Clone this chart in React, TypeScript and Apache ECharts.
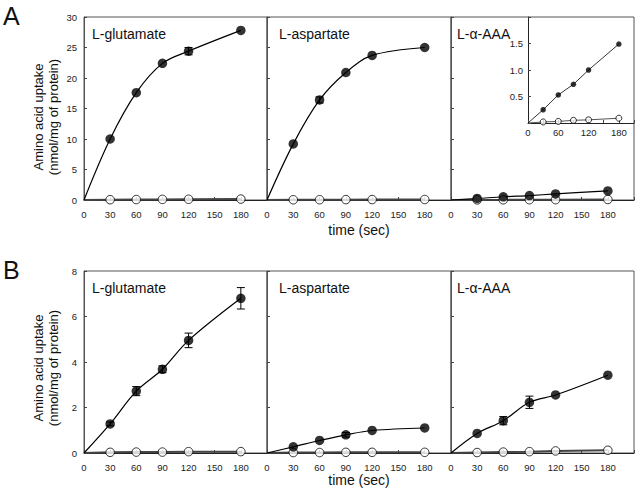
import React, { useEffect, useRef } from "react";
import * as echarts from "echarts";

// ---- data ----
const timePoints = [30, 60, 90, 120, 180];
const xTicks = [0, 30, 60, 90, 120, 150, 180];

// Panel A (nmol/mg protein)
const aGluFilled = [10.0, 17.6, 22.4, 24.4, 27.8];
const aGluErr = [0, 0, 0, 0.6, 0];
const aGluOpen = [0.05, 0.07, 0.1, 0.12, 0.15];
const aAspFilled = [9.2, 16.4, 20.9, 23.7, 25.0];
const aAspErr = [0, 0.5, 0, 0, 0];
const aAspOpen = [0.04, 0.05, 0.06, 0.07, 0.08];
const aAaaFilled = [0.25, 0.53, 0.73, 1.0, 1.49];
const aAaaErr = [0, 0, 0, 0, 0];
const aAaaOpen = [0.02, 0.03, 0.05, 0.06, 0.09];

// Panel B
const bGluFilled = [1.28, 2.72, 3.68, 4.95, 6.8];
const bGluErr = [0.08, 0.2, 0.15, 0.32, 0.47];
const bGluOpen = [0.03, 0.04, 0.04, 0.06, 0.06];
const bAspFilled = [0.27, 0.55, 0.8, 0.99, 1.1];
const bAspErr = [0, 0, 0.1, 0, 0];
const bAspOpen = [0.02, 0.02, 0.03, 0.03, 0.03];
const bAaaFilled = [0.86, 1.42, 2.23, 2.55, 3.42];
const bAaaErr = [0, 0.18, 0.27, 0, 0];
const bAaaOpen = [0.02, 0.04, 0.06, 0.09, 0.12];

const panelNames = ["L-glutamate", "L-aspartate", "L-\u03b1-AAA"];
const yTitleLines = ["Amino acid uptake", "(nmol/mg of protein)"];
const xTitle = "time (sec)";

const FONT = "'Liberation Sans', Arial, Helvetica, sans-serif";

const panelLefts = [84, 267, 451];
const panelWidths = [183, 184, 183];
const rowTops = [17, 271];
const rowHeights = [183, 182];
const labelXs = [92, 279, 457];

const rows = [
  { max: 30, interval: 5, filled: [aGluFilled, aAspFilled, aAaaFilled], err: [aGluErr, aAspErr, aAaaErr], open: [aGluOpen, aAspOpen, aAaaOpen] },
  { max: 8, interval: 2, filled: [bGluFilled, bAspFilled, bAaaFilled], err: [bGluErr, bAspErr, bAaaErr], open: [bGluOpen, bAspOpen, bAaaOpen] },
];

function errRender(params: any, api: any) {
  const x = api.value(0);
  const y = api.value(1);
  const e = api.value(2);
  if (!e) return { type: "group", children: [] };
  const top = api.coord([x, y + e]);
  const bot = api.coord([x, y - e]);
  const hw = 4;
  const st = { stroke: "#000", lineWidth: 1 };
  return {
    type: "group",
    children: [
      { type: "line", shape: { x1: top[0], y1: top[1], x2: bot[0], y2: bot[1] }, style: st },
      { type: "line", shape: { x1: top[0] - hw, y1: top[1], x2: top[0] + hw, y2: top[1] }, style: st },
      { type: "line", shape: { x1: bot[0] - hw, y1: bot[1], x2: bot[0] + hw, y2: bot[1] }, style: st },
    ],
  };
}

function buildOption() {
  const grid: any[] = [];
  const xAxis: any[] = [];
  const yAxis: any[] = [];
  const series: any[] = [];
  const graphic: any[] = [];

  rows.forEach((row, r) => {
    for (let p = 0; p < 3; p++) {
      const gi = grid.length;
      grid.push({
        left: panelLefts[p],
        top: rowTops[r],
        width: panelWidths[p],
        height: rowHeights[r],
        show: true,
        borderColor: "#555",
        borderWidth: 1,
        backgroundColor: "transparent",
      });
      xAxis.push({
        type: "value",
        gridIndex: gi,
        min: 0,
        max: 210,
        interval: 30,
        axisLine: { show: true, lineStyle: { color: "#222", width: 1 } },
        axisTick: { show: true, inside: true, length: 3, lineStyle: { color: "#444" } },
        axisLabel: {
          show: true,
          margin: 9,
          fontSize: 9.5,
          color: "#222",
          fontFamily: FONT,
          formatter: (v: number) => (xTicks.indexOf(v) >= 0 ? String(v) : ""),
        },
        splitLine: { show: false },
      });
      yAxis.push({
        type: "value",
        gridIndex: gi,
        min: 0,
        max: row.max,
        interval: row.interval,
        axisLine: { show: true, lineStyle: { color: "#555", width: 1 } },
        axisTick: { show: true, inside: true, length: 3, lineStyle: { color: "#444" } },
        axisLabel: {
          show: p === 0,
          margin: 7,
          fontSize: 9.5,
          color: "#222",
          fontFamily: FONT,
        },
        splitLine: { show: false },
      });

      const filled = row.filled[p];
      const err = row.err[p];
      const open = row.open[p];
      const fitData = [[0, 0], ...timePoints.map((t, i) => [t, filled[i]])];
      const openLine = [[0, 0], ...timePoints.map((t, i) => [t, open[i]])];

      series.push({
        type: "line",
        xAxisIndex: gi,
        yAxisIndex: gi,
        data: openLine,
        showSymbol: false,
        symbol: "none",
        lineStyle: { color: "#444", width: 2 },
        z: 2,
      });
      series.push({
        type: "line",
        xAxisIndex: gi,
        yAxisIndex: gi,
        data: fitData,
        smooth: 0.35,
        showSymbol: false,
        symbol: "none",
        lineStyle: { color: "#000", width: 1.2 },
        z: 3,
      });
      series.push({
        type: "custom",
        xAxisIndex: gi,
        yAxisIndex: gi,
        coordinateSystem: "cartesian2d",
        data: timePoints.map((t, i) => [t, filled[i], err[i]]),
        encode: { x: 0, y: 1 },
        renderItem: errRender,
        z: 4,
      });
      series.push({
        type: "scatter",
        xAxisIndex: gi,
        yAxisIndex: gi,
        data: timePoints.map((t, i) => [t, open[i]]),
        symbol: "circle",
        symbolSize: 8.5,
        itemStyle: { color: "#fff", borderColor: "#000", borderWidth: 1 },
        z: 5,
      });
      series.push({
        type: "scatter",
        xAxisIndex: gi,
        yAxisIndex: gi,
        data: timePoints.map((t, i) => [t, filled[i]]),
        symbol: "circle",
        symbolSize: 9.5,
        itemStyle: { color: "#000" },
        z: 6,
      });

      graphic.push({
        type: "text",
        x: labelXs[p],
        y: rowTops[r] + 17,
        style: { text: panelNames[p], font: `14px ${FONT}`, fill: "#111", textVerticalAlign: "middle" },
      });
    }
  });

  // inset in panel A L-α-AAA
  const ii = grid.length;
  grid.push({ left: 528, top: 17, width: 106, height: 106, show: false });
  xAxis.push({
    type: "value",
    gridIndex: ii,
    min: 0,
    max: 210,
    interval: 30,
    axisLine: { show: true, onZero: false, lineStyle: { color: "#222", width: 1 } },
    axisTick: { show: true, inside: true, length: 3, lineStyle: { color: "#444" } },
    axisLabel: {
      margin: 4,
      fontSize: 9.5,
      color: "#222",
      fontFamily: FONT,
      formatter: (v: number) => (v % 60 === 0 && v <= 180 ? String(v) : ""),
    },
    splitLine: { show: false },
  });
  yAxis.push({
    type: "value",
    gridIndex: ii,
    min: 0,
    max: 2,
    interval: 0.5,
    axisLine: { show: true, lineStyle: { color: "#222", width: 1 } },
    axisTick: { show: true, inside: true, length: 3, lineStyle: { color: "#444" } },
    axisLabel: {
      margin: 5,
      fontSize: 9.5,
      color: "#222",
      fontFamily: FONT,
      formatter: (v: number) => (v > 0 && v < 2 ? v.toFixed(1) : ""),
    },
    splitLine: { show: false },
  });
  series.push({
    type: "line",
    xAxisIndex: ii,
    yAxisIndex: ii,
    data: [[0, 0], ...timePoints.map((t, i) => [t, aAaaOpen[i]])],
    showSymbol: false,
    symbol: "none",
    lineStyle: { color: "#555", width: 1 },
  });
  series.push({
    type: "line",
    xAxisIndex: ii,
    yAxisIndex: ii,
    data: [[0, 0], ...timePoints.map((t, i) => [t, aAaaFilled[i]])],
    showSymbol: false,
    symbol: "none",
    lineStyle: { color: "#000", width: 0.8 },
  });
  series.push({
    type: "scatter",
    xAxisIndex: ii,
    yAxisIndex: ii,
    data: timePoints.map((t, i) => [t, aAaaOpen[i]]),
    symbolSize: 6,
    itemStyle: { color: "#fff", borderColor: "#000", borderWidth: 1 },
    z: 5,
  });
  series.push({
    type: "scatter",
    xAxisIndex: ii,
    yAxisIndex: ii,
    data: timePoints.map((t, i) => [t, aAaaFilled[i]]),
    symbolSize: 5.5,
    itemStyle: { color: "#000" },
    z: 6,
  });

  // texts
  const letters = ["A", "B"];
  const yCenters = [117, 368];
  const xTitleY = [230, 480];
  rows.forEach((_, r) => {
    graphic.push({
      type: "text",
      x: 3,
      y: rowTops[r] - 14,
      style: { text: letters[r], font: `25px ${FONT}`, fill: "#111", textVerticalAlign: "top" },
    });
    graphic.push({
      type: "text",
      x: 38,
      y: yCenters[r],
      rotation: Math.PI / 2,
      style: { text: yTitleLines[0], font: `13px ${FONT}`, fill: "#111", textAlign: "center", textVerticalAlign: "middle" },
    });
    graphic.push({
      type: "text",
      x: 53,
      y: yCenters[r],
      rotation: Math.PI / 2,
      style: { text: yTitleLines[1], font: `13px ${FONT}`, fill: "#111", textAlign: "center", textVerticalAlign: "middle" },
    });
    graphic.push({
      type: "text",
      x: 359,
      y: xTitleY[r],
      style: { text: xTitle, font: `14px ${FONT}`, fill: "#111", textAlign: "center", textVerticalAlign: "middle" },
    });
  });

  return {
    animation: false,
    backgroundColor: "#fff",
    textStyle: { fontFamily: FONT },
    grid,
    xAxis,
    yAxis,
    series,
    graphic,
  };
}

export default function App() {
  const ref = useRef<HTMLDivElement>(null);
  useEffect(() => {
    if (!ref.current) return;
    const chart = echarts.init(ref.current, undefined, { renderer: "svg" });
    chart.setOption(buildOption() as any);
    return () => chart.dispose();
  }, []);
  return (
    <div
      ref={ref}
      style={{ position: "fixed", left: 0, top: 0, width: 640, height: 500, background: "#fff" }}
    />
  );
}
